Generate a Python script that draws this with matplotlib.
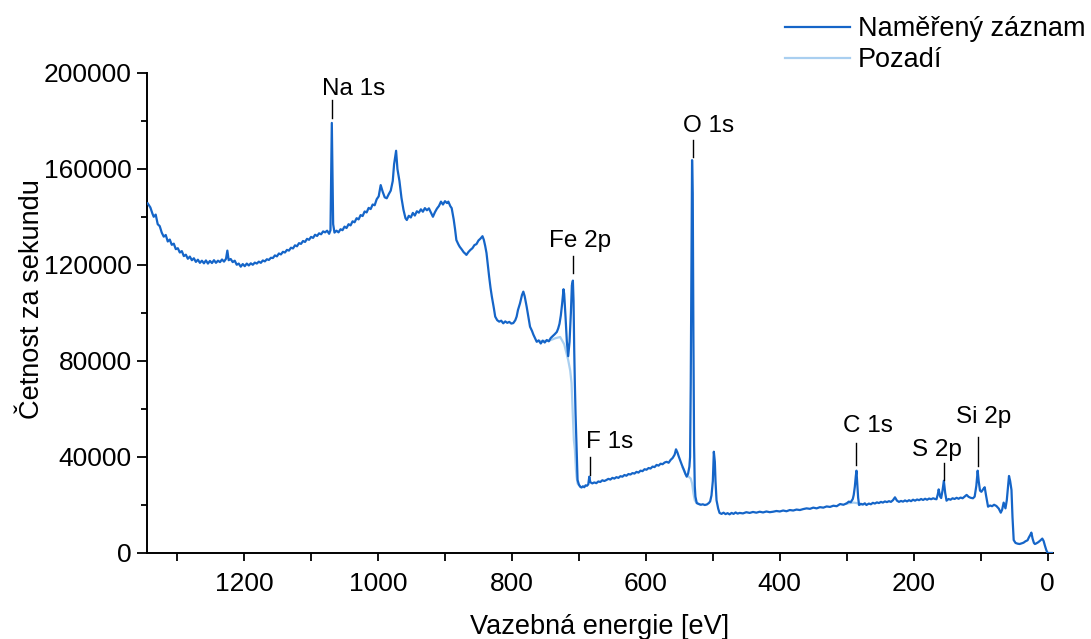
import numpy as np
import matplotlib
matplotlib.use("Agg")
import matplotlib.pyplot as plt
from matplotlib.ticker import MultipleLocator

plt.rcParams['font.family'] = ['Liberation Sans', 'DejaVu Sans']

# ---- data (binding energy eV, counts per second) ----
measured = [
    (1344, 145700), (1340, 144000), (1337, 141500), (1335, 140100), (1332, 141000),
    (1329, 137000), (1326, 136200), (1323, 133500), (1320, 131800), (1317, 132500),
    (1314, 129800), (1311, 130600), (1308, 128400), (1305, 128900), (1302, 126600),
    (1299, 127000), (1296, 125200), (1293, 125800), (1290, 123700), (1287, 124300),
    (1284, 122600), (1281, 123500), (1278, 122000), (1275, 122800), (1272, 121300),
    (1269, 122200), (1266, 120900), (1263, 121800), (1260, 120700), (1257, 121900),
    (1254, 120600), (1251, 121700), (1248, 120800), (1245, 122000), (1242, 120900),
    (1239, 121800), (1236, 121200), (1233, 122300), (1230, 121400), (1227, 122600),
    (1225, 126000), (1223, 122000), (1220, 122500), (1217, 121200), (1214, 121800),
    (1211, 120100), (1208, 120600), (1205, 119300), (1202, 120400), (1199, 119500),
    (1196, 120600), (1193, 119800), (1190, 120700), (1187, 120100), (1184, 121000),
    (1181, 120600), (1178, 121400), (1175, 120900), (1172, 121900), (1169, 121500),
    (1166, 122400), (1163, 122100), (1160, 123000), (1157, 122900), (1154, 124000),
    (1151, 123600), (1148, 124800), (1145, 124400), (1142, 125500), (1139, 125200),
    (1136, 126300), (1133, 126000), (1130, 127200), (1127, 126900), (1124, 128200),
    (1121, 127800), (1118, 129100), (1115, 128800), (1112, 130000), (1109, 129600),
    (1106, 130900), (1103, 130500), (1100, 131700), (1097, 131300), (1094, 132600),
    (1091, 132100), (1088, 133200), (1085, 132800), (1082, 134000), (1079, 133600),
    (1076, 134300), (1073, 133000), (1071, 134500), (1069, 179200), (1067, 137000),
    (1065, 133500), (1062, 134300), (1059, 133600), (1056, 134900), (1053, 134500),
    (1050, 136000), (1047, 135400), (1044, 137000), (1041, 136500), (1038, 138200),
    (1035, 137800), (1032, 139500), (1029, 139000), (1026, 140800), (1023, 140400),
    (1020, 142300), (1017, 141900), (1014, 143800), (1011, 143300), (1008, 145200),
    (1005, 144900), (1002, 147400), (999, 148600), (996, 153300), (993, 150500),
    (990, 148200), (987, 147800), (984, 149500), (981, 151000), (978, 155000),
    (976, 162000), (973, 167600), (971, 160000), (968, 155000), (965, 148000),
    (962, 143000), (959, 139500), (957, 138750), (954, 140500), (951, 139800),
    (948, 141700), (945, 140600), (942, 142400), (939, 141800), (936, 143200),
    (933, 142200), (930, 143700), (927, 142800), (924, 143600), (921, 141900),
    (918, 140100), (915, 142000), (912, 143500), (909, 144600), (906, 146400),
    (903, 145200), (900, 146600), (897, 145800), (895, 146400), (892, 144500),
    (890, 143700), (887, 139000), (885, 135000), (883, 130400), (880, 128600),
    (878, 127600), (875, 126500), (872, 125300), (870, 124800), (868, 124200),
    (865, 125400), (862, 126300), (859, 127000), (856, 128300), (853, 128700),
    (850, 130200), (847, 131000), (844, 132000), (842, 130500), (840, 128000),
    (838, 125000), (836, 120000), (834, 115000), (832, 110500), (830, 106800),
    (827, 102000), (825, 98500), (822, 97000), (819, 96400), (816, 96800),
    (813, 95700), (810, 96500), (807, 95900), (804, 96300), (801, 95600),
    (798, 95800), (795, 97000), (793, 98500), (791, 101250), (788, 104000),
    (785, 107500), (783, 108900), (781, 107000), (778, 102600), (775, 97500),
    (773, 94300), (770, 92500), (768, 91000), (765, 89200), (763, 88000),
    (760, 88600), (757, 87300), (754, 88500), (751, 87700), (748, 88750),
    (745, 88200), (742, 89600), (739, 90400), (736, 91200), (733, 92100),
    (731, 93500), (729, 95500), (727, 99000), (725, 104000), (723, 109900),
    (722, 108000), (720, 98500), (718, 88000), (716, 82000), (714, 88000),
    (712, 100000), (710.5, 111500), (709, 113500), (708, 105000), (707, 84600),
    (706, 70000), (705, 58000), (704, 48500), (703, 38000), (702, 30400),
    (700, 28500), (698, 27600), (696, 27300), (694, 27800), (692, 27400),
    (690, 28200), (688, 28000), (686, 28600), (684.5, 31800), (683, 29500),
    (680, 29000), (677, 29400), (674, 29100), (671, 29800), (668, 29600),
    (665, 30300), (662, 30000), (659, 30400), (656, 30900), (653, 30600),
    (650, 31300), (647, 31000), (644, 31600), (641, 31300), (638, 32000),
    (635, 31800), (632, 32500), (629, 32200), (626, 32900), (623, 32700),
    (620, 33300), (617, 33100), (614, 33800), (611, 33500), (608, 34300),
    (605, 34100), (602, 34900), (599, 34700), (596, 35400), (593, 35200),
    (590, 36000), (587, 35800), (584, 36700), (581, 36400), (578, 37200),
    (575, 37000), (572, 37700), (569, 38000), (566, 37600), (563, 38800),
    (560, 39600), (557, 41000), (555, 43200), (553, 42000), (551, 40300),
    (549, 38750), (546, 36500), (543, 34500), (541, 33000), (539, 31800),
    (537, 33000), (535, 36000), (534, 40000), (533, 70000), (532, 120000),
    (531, 163700), (530, 150000), (529, 90000), (528, 45000), (527, 28000),
    (526, 23500), (524, 20800), (521, 20400), (518, 20100), (515, 20300),
    (512, 20000), (509, 20200), (506, 20800), (504, 21500), (502, 24000),
    (500, 30000), (498.5, 42200), (497, 38000), (496, 30000), (494.5, 22000),
    (492, 18500), (490, 16700), (487, 16300), (484, 16800), (481, 16200),
    (478, 16600), (475, 16100), (472, 16700), (469, 16300), (466, 16900),
    (463, 16400), (460, 16700), (455, 16500), (450, 17000), (445, 16700),
    (440, 17100), (435, 16800), (430, 17200), (425, 16900), (420, 17300),
    (415, 17000), (410, 17200), (405, 17500), (400, 17300), (395, 17700),
    (390, 17400), (385, 17900), (380, 17700), (375, 18100), (370, 17900),
    (365, 18300), (360, 18600), (355, 18400), (350, 18900), (345, 18600),
    (340, 19100), (335, 18900), (330, 19400), (325, 19200), (320, 19700),
    (315, 19500), (310, 20400), (305, 20100), (300, 20700), (297, 21400),
    (294, 21200), (291, 22500), (289.6, 24200), (288, 27500), (286.5, 32000),
    (285.5, 34300), (284.5, 30000), (283, 23000), (281.6, 20000), (279, 20500),
    (276, 20200), (273, 20700), (270.6, 20000), (267, 20600), (264, 20300),
    (261, 20900), (258, 20600), (255, 21100), (252, 20800), (249, 21300),
    (246, 21000), (243, 21500), (240, 21200), (237, 21600), (234, 21300),
    (231, 22000), (228, 23200), (225, 21800), (222, 21300), (219, 21700),
    (216, 21400), (213, 21900), (210, 21500), (207, 22000), (204, 21600),
    (201, 22200), (198, 21800), (195, 22300), (192, 22000), (189, 22500),
    (186, 22100), (183, 22600), (180, 22200), (177, 22700), (174, 22400),
    (171, 22800), (168, 22500), (166, 22400), (164, 24500), (162.7, 26500),
    (160.5, 23500), (159, 22900), (157, 26000), (155, 30100), (153, 25000),
    (151, 21800), (148, 22500), (145, 22200), (142, 22800), (139, 22500),
    (136, 23000), (133, 22600), (130, 23100), (127, 22800), (124, 23500),
    (121, 24200), (118, 23400), (115, 23000), (111.5, 22800), (109, 23500),
    (106.5, 28000), (104.5, 34300), (103, 30000), (101, 26000), (99, 25500),
    (96.5, 26500), (94, 27400), (92, 24000), (89, 19300), (86, 19800),
    (83, 19500), (80, 20100), (76.6, 19600), (73, 18500), (70, 16800),
    (68, 18000), (65.7, 21000), (63, 18600), (61, 22000), (59, 28000),
    (57.7, 32100), (56, 30000), (54, 26250), (52.5, 15000), (50.7, 5400),
    (48, 4200), (45, 3900), (42, 3750), (39, 4000), (36, 4300),
    (33, 4900), (30, 5300), (28, 6500), (26, 7500), (24.3, 8500),
    (22.5, 6000), (20.5, 4200), (19, 3750), (17, 4000), (14, 4500),
    (11, 5200), (8, 6000), (6, 5000), (4, 3000), (2, 1200),
    (0, 0), (-2, 0), (-5, 0), (-8, 0),
]

# background segments (None separates segments)
background = [
    (760, 88300), (745, 88400), (735, 89500), (728, 90000), (722, 87000),
    (716, 80400), (713, 76000), (711, 70800), (709, 56800), (707.5, 47000),
    (706, 43000), (704.5, 35000), (703.5, 31800), (702, 29000), (700, 28300),
    (697, 27500),
    None,
    (545, 35500), (540, 32500), (536, 31800), (533, 31000), (531, 29000),
    (529, 25000), (527, 22000), (524, 20800), (520, 20400),
    None,
    (300, 20600), (290, 21000), (285, 20800), (280, 20200), (275, 20300),
]

peak_labels = ["Na 1s", "O 1s", "Fe 2p", "F 1s", "C 1s", "S 2p", "Si 2p"]
peak_marker_x = [1069, 530, 709, 683.6, 285.8, 155, 104.5]
peak_marker_y0 = [181250, 165000, 116700, 32500, 36700, 30400, 36250]
peak_marker_y1 = [188750, 172000, 123750, 40000, 45800, 37500, 48300]
peak_text_x = [1037, 507, 698, 654.5, 268, 166, 96]
peak_text_y = [190800, 175400, 127500, 43750, 50400, 40400, 54200]

series_names = ["Naměřený záznam", "Pozadí"]
x_ticks = [1200, 1000, 800, 600, 400, 200, 0]
y_ticks = [0, 40000, 80000, 120000, 160000, 200000]

# ---- build arrays ----
energy = np.array([p[0] for p in measured], dtype=float)
counts = np.array([p[1] for p in measured], dtype=float)
bg_e = np.array([np.nan if p is None else p[0] for p in background], dtype=float)
bg_c = np.array([np.nan if p is None else p[1] for p in background], dtype=float)

fig = plt.figure(figsize=(10.91, 6.39), dpi=100)
ax = fig.add_axes([147 / 1091, 1 - 553 / 639, (1053 - 147) / 1091, (553 - 73) / 639])

main_color = '#1565c8'
bg_color = '#a9cff0'

l2, = ax.plot(bg_e, bg_c, color=bg_color, lw=1.6, zorder=2, label=series_names[1])
l1, = ax.plot(energy, counts, color=main_color, lw=1.6, zorder=3, label=series_names[0])

ax.set_xlim(1345, -8)
ax.set_ylim(0, 200000)

ax.set_xticks(x_ticks)
ax.set_yticks(y_ticks)
ax.xaxis.set_minor_locator(MultipleLocator(100))
ax.yaxis.set_minor_locator(MultipleLocator(20000))

for s in ['top', 'right']:
    ax.spines[s].set_visible(False)
for s in ['left', 'bottom']:
    ax.spines[s].set_linewidth(1.4)

ax.tick_params(axis='both', which='major', direction='out', width=1.3, labelsize=19)
ax.tick_params(axis='y', which='major', length=7, pad=4)
ax.tick_params(axis='y', which='minor', length=4, width=1.3)
ax.tick_params(axis='x', which='major', length=6, pad=8)
ax.tick_params(axis='x', which='minor', length=6, width=1.3)

ax.set_xlabel("Vazebná energie [eV]", fontsize=19.5)
ax.set_ylabel("Četnost za sekundu", fontsize=19.5)
ax.xaxis.set_label_coords(0.5, -0.127)
ax.yaxis.set_label_coords(-0.113, 0.53)

for lab, mx, y0, y1, tx, ty in zip(peak_labels, peak_marker_x, peak_marker_y0,
                                   peak_marker_y1, peak_text_x, peak_text_y):
    ax.plot([mx, mx], [y0, y1], color='black', lw=1.0, zorder=4)
    ax.text(tx, ty, lab, fontsize=17.5, ha='center', va='baseline', zorder=5)

fig.legend(handles=[l1, l2], labels=series_names, loc='upper left',
           bbox_to_anchor=(785 / 1091, 1 - 16 / 639), frameon=False,
           fontsize=19.5, handlelength=2.4, handletextpad=0.3,
           labelspacing=0.2, borderpad=0.0, borderaxespad=0.0)

fig.savefig("out.png", dpi=100)
